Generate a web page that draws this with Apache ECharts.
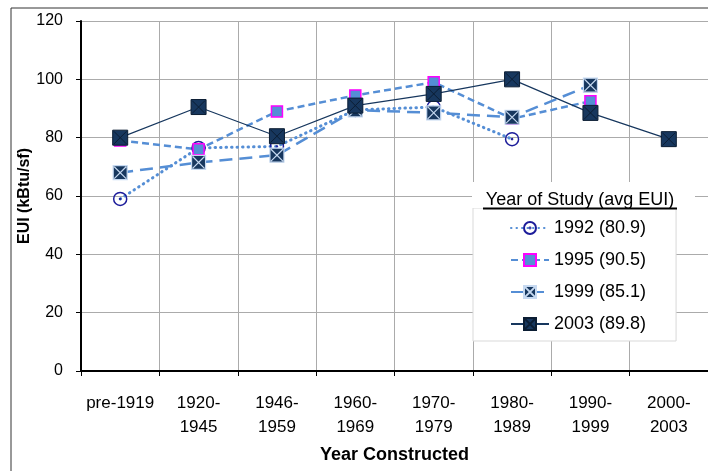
<!DOCTYPE html>
<html>
<head>
<meta charset="utf-8">
<script src="https://cdn.jsdelivr.net/npm/echarts@6/dist/echarts.min.js"></script>
<style>
  html, body { margin: 0; padding: 0; background: #fff; }
  #chart { width: 708px; height: 471px; }
</style>
</head>
<body>
<div id="chart"></div>
<script>
// categories (year constructed)
var categories = ["pre-1919", "1920-\n1945", "1946-\n1959", "1960-\n1969", "1970-\n1979", "1980-\n1989", "1990-\n1999", "2000-\n2003"];

// EUI by year of study
var eui1992 = [59, 76.5, 77, 89.5, 90.5, 79.5, null, null];
var eui1995 = [79, 76, 89, 94.5, 99, 86.5, 92.5, null];
var eui1999 = [68, 71.5, 74, 89.5, 88.5, 87, 98, null];
var eui2003 = [80, 90.5, 80.5, 91, 95, 100, 88.5, 79.5];

var seriesNames = ["1992 (80.9)", "1995 (90.5)", "1999 (85.1)", "2003 (89.8)"];
var yTicks = { min: 0, max: 120, interval: 20 };

var FONT = "'Liberation Sans', Arial, sans-serif";
var lightBlue = "#558ED5";
var navy = "#17375E";

// square with an X through it
var crossSquare = "path://M0,0L20,0L20,20L0,20Z M1.5,1.5L18.5,18.5 M18.5,1.5L1.5,18.5";
// open circle with a dot in the middle
var dotCircle = "path://M10,0A10,10,0,1,1,10,20A10,10,0,1,1,10,0Z M10,9.2A0.8,0.8,0,1,1,10,10.8A0.8,0.8,0,1,1,10,9.2Z";

var chart = echarts.init(document.getElementById("chart"));

var option = {
  animation: false,
  textStyle: { fontFamily: FONT },
  grid: { left: 81, top: 21, width: 628, height: 350 },
  legend: {
    orient: "vertical",
    left: 473,
    top: 208,
    padding: [11, 30, 8, 37],
    itemWidth: 38,
    itemHeight: 15,
    itemGap: 14,
    backgroundColor: "#fff",
    borderColor: "#d9d9d9",
    borderWidth: 1,
    textStyle: { fontSize: 18, color: "#000", fontFamily: FONT },
    data: seriesNames
  },
  xAxis: {
    type: "category",
    data: categories,
    name: "Year Constructed",
    nameLocation: "middle",
    nameGap: 75,
    nameMoveOverlap: false,
    nameTextStyle: { fontSize: 18, fontWeight: "bold", color: "#000", fontFamily: FONT },
    axisLine: { lineStyle: { color: "#000", width: 2 } },
    axisTick: { show: true, length: 5, lineStyle: { color: "#000" } },
    axisLabel: { fontSize: 17, color: "#000", margin: 20, lineHeight: 24, interval: 0, fontFamily: FONT },
    splitLine: { show: true, interval: 0, lineStyle: { color: "#ababab", width: 1 } }
  },
  yAxis: {
    type: "value",
    min: yTicks.min,
    max: yTicks.max,
    interval: yTicks.interval,
    name: "EUI (kBtu/sf)",
    nameLocation: "middle",
    nameGap: 48,
    nameMoveOverlap: false,
    nameTextStyle: { fontSize: 16, fontWeight: "bold", color: "#000", fontFamily: FONT },
    axisLine: { show: true, lineStyle: { color: "#000", width: 2 } },
    axisTick: { show: true, length: 5, lineStyle: { color: "#000" } },
    axisLabel: { fontSize: 16, color: "#000", margin: 18, fontFamily: FONT },
    splitLine: { lineStyle: { color: "#ababab", width: 1 } }
  },
  series: [
    {
      name: seriesNames[0],
      type: "line",
      data: eui1992,
      symbol: dotCircle,
      symbolSize: 13,
      lineStyle: { color: lightBlue, width: 3, type: [0.5, 5], cap: "round" },
      itemStyle: { color: "rgba(255,255,255,0)", borderColor: "#1c1c9a", borderWidth: 1.5 }
    },
    {
      name: seriesNames[1],
      type: "line",
      data: eui1995,
      symbol: "rect",
      symbolSize: 11,
      lineStyle: { color: lightBlue, width: 2.5, type: [7, 4] },
      itemStyle: { color: lightBlue, borderColor: "#ff00ff", borderWidth: 1.5 }
    },
    {
      name: seriesNames[2],
      type: "line",
      data: eui1999,
      symbol: crossSquare,
      symbolSize: 14,
      lineStyle: { color: lightBlue, width: 2.5, type: [13, 7] },
      itemStyle: { color: navy, borderColor: "#c6d9f1", borderWidth: 1.2 }
    },
    {
      name: seriesNames[3],
      type: "line",
      data: eui2003,
      symbol: crossSquare,
      symbolSize: 15,
      lineStyle: { color: navy, width: 1.2 },
      itemStyle: { color: navy, borderColor: "#0b1d33", borderWidth: 1 }
    }
  ],
  graphic: [
    // chart area frame
    {
      type: "rect",
      shape: { x: 11, y: 8, width: 760, height: 520 },
      style: { fill: "none", stroke: "#333", lineWidth: 1 },
      silent: true
    },
    // legend heading
    {
      type: "rect",
      shape: { x: 472, y: 182, width: 223, height: 26 },
      style: { fill: "#fff" },
      z: 10
    },
    {
      type: "text",
      x: 580,
      y: 200,
      style: {
        text: "Year of Study (avg EUI)",
        font: "18px " + FONT,
        fill: "#000",
        align: "center",
        verticalAlign: "middle"
      },
      z: 11
    },
    {
      type: "line",
      shape: { x1: 483, y1: 208.5, x2: 677, y2: 208.5 },
      style: { stroke: "#000", lineWidth: 2 },
      z: 12
    }
  ]
};

chart.setOption(option);
</script>
</body>
</html>
